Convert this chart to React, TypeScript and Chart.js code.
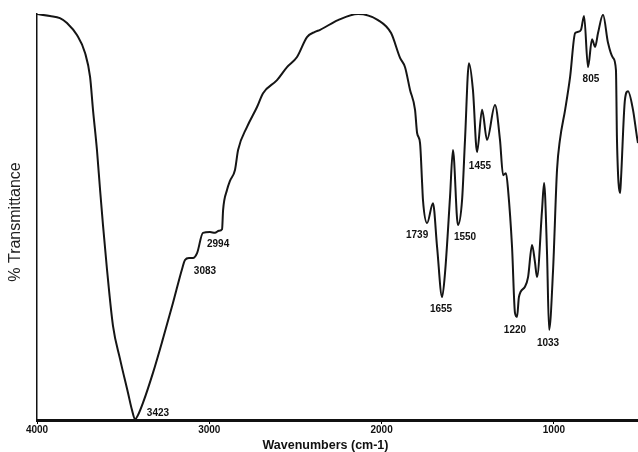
import React, { useEffect, useRef } from "react";
import { Chart, registerables } from "chart.js";

Chart.register(...registerables);

// IR spectrum: wavenumber (cm-1) and % transmittance (relative, 0..100)
const wavenumbers = [
  4000, 3925, 3867, 3826, 3768, 3721, 3692, 3675, 3652, 3634, 3617, 3594, 3559, 3518, 3472, 3449, 3431, 3414, 3385, 3327,
  3269, 3211, 3158, 3141, 3118, 3095, 3071, 3037, 2996, 2967, 2944, 2926, 2920, 2897, 2880, 2851, 2833, 2781, 2723, 2688,
  2607, 2549, 2491, 2433, 2387, 2357, 2253, 2137, 2021, 1945, 1893, 1864, 1835, 1806, 1794, 1777, 1765, 1760, 1736, 1702,
  1678, 1649, 1632, 1603, 1586, 1557, 1533, 1516, 1493, 1470, 1446, 1417, 1388, 1342, 1313, 1295, 1278, 1266, 1243, 1226,
  1214, 1203, 1168, 1150, 1127, 1110, 1098, 1069, 1057, 1040, 1028, 1005, 982, 965, 935, 906, 877, 860, 843, 825,
  802, 779, 761, 744, 715, 686, 657, 640, 634, 616, 611, 588, 570, 541, 518, 512,
];
const transmittance = [
  100, 99.5, 99.0, 97.8, 94.8, 90.4, 84.5, 76.4, 66.5, 56.7, 48.0, 37.2, 23.2, 15.0, 6.7, 2.5, 0.2, 1.2, 4.2, 11.6,
  20.0, 28.8, 37.2, 39.4, 39.9, 39.9, 41.1, 46.1, 46.3, 46.1, 46.6, 47.0, 51.7, 56.7, 58.9, 61.6, 66.5, 72.2, 77.1, 80.5,
  83.7, 86.9, 89.4, 94.3, 95.6, 96.1, 98.5, 100, 98.5, 95.3, 89.2, 86.9, 81.3, 76.4, 70.7, 68.2, 58.4, 54.2, 48.5, 53.4,
  42.6, 30.3, 36.2, 54.9, 66.5, 48.0, 54.2, 69.0, 87.9, 81.3, 66.0, 76.4, 69.0, 77.6, 69.0, 60.3, 60.8, 56.7, 42.6, 26.4,
  25.4, 30.3, 32.8, 35.2, 43.1, 38.9, 35.2, 51.7, 58.4, 41.1, 22.2, 36.9, 61.6, 69.0, 76.4, 84.5, 95.3, 95.6, 96.1, 99.5,
  86.9, 93.8, 91.9, 95.3, 99.8, 92.9, 89.2, 86.2, 69.0, 55.9, 59.1, 78.8, 81.0, 76.4, 69.7, 68.2,
];

// x-axis ticks
const xTicks = [4000, 3000, 2000, 1000];

// peak annotations: text and where the text sits (in wavenumber / transmittance units)
const peakLabels = ["3423", "3083", "2994", "1739", "1655", "1550", "1455", "1220", "1033", "805"];
const peakLabelWn = [3298, 3025, 2949, 1794, 1655, 1516, 1429, 1226, 1034, 785];
const peakLabelT = [1.7, 36.7, 43.3, 45.6, 27.3, 45.1, 62.6, 22.2, 19.0, 84.0];

const xTitle = "Wavenumbers (cm-1)";
const yTitle = "% Transmittance";

const FONT = "'Liberation Sans', Arial, sans-serif";

export default function App() {
  const ref = useRef<HTMLCanvasElement | null>(null);

  useEffect(() => {
    const canvas = ref.current;
    if (!canvas) return;

    const annotate = {
      id: "annotate",
      afterDraw(chart: any) {
        const ctx = chart.ctx;
        const xs = chart.scales.x;
        const ys = chart.scales.y;
        ctx.save();
        ctx.fillStyle = "#111";
        ctx.font = `bold 10px ${FONT}`;
        ctx.textAlign = "center";
        ctx.textBaseline = "middle";
        peakLabels.forEach((t, i) => {
          ctx.fillText(t, xs.getPixelForValue(peakLabelWn[i]), ys.getPixelForValue(peakLabelT[i]));
        });
        // x title
        ctx.font = `bold 12.5px ${FONT}`;
        ctx.fillText(xTitle, chart.chartArea.left + (chart.chartArea.right - chart.chartArea.left) / 2 - 12, 446);
        // y title
        ctx.font = `16px ${FONT}`;
        ctx.fillStyle = "#222";
        ctx.translate(16, (chart.chartArea.top + chart.chartArea.bottom) / 2 + 5);
        ctx.rotate(-Math.PI / 2);
        ctx.fillText(yTitle, 0, 0);
        ctx.restore();
      },
    };

    const chart = new Chart(canvas, {
      type: "line",
      data: {
        datasets: [
          {
            data: wavenumbers.map((w, i) => ({ x: w, y: transmittance[i] })),
            borderColor: "#151515",
            borderWidth: 2,
            pointRadius: 0,
            fill: false,
            cubicInterpolationMode: "monotone",
          },
        ],
      },
      options: {
        responsive: false,
        animation: false,
        devicePixelRatio: 1,
        layout: { padding: { left: 37, top: 14, right: 0, bottom: 16 } },
        plugins: { legend: { display: false }, tooltip: { enabled: false } },
        scales: {
          x: {
            type: "linear",
            reverse: true,
            min: 512,
            max: 4000,
            afterBuildTicks: (scale: any) => {
              scale.ticks = xTicks.map((v) => ({ value: v }));
            },
            grid: { display: true, drawOnChartArea: false, drawTicks: true, tickLength: 4, color: "#000", lineWidth: 1 },
            border: { display: true, color: "#111", width: 3 },
            ticks: {
              autoSkip: false,
              maxRotation: 0,
              padding: 0,
              color: "#111",
              font: { family: FONT, size: 10, weight: "bold" },
              callback: (v: any) => String(v),
            },
          },
          y: {
            min: 0,
            max: 100,
            display: true,
            grid: { display: false, drawTicks: false, tickLength: 0 },
            border: { display: true, color: "#111", width: 1.5 },
            ticks: { display: false, padding: 0 },
          },
        },
      },
      plugins: [annotate],
    } as any);

    return () => chart.destroy();
  }, []);

  return (
    <div style={{ position: "fixed", left: 0, top: 0, width: 638, height: 452, background: "#fff" }}>
      <canvas ref={ref} width={638} height={452} style={{ display: "block" }} />
    </div>
  );
}
